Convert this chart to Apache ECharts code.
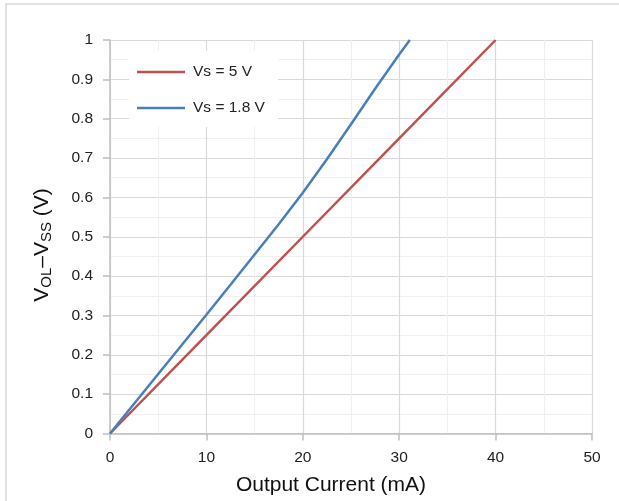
<!DOCTYPE html>
<html>
<head>
<meta charset="utf-8">
<script src="https://cdn.jsdelivr.net/npm/echarts@6/dist/echarts.min.js"></script>
<style>
html,body{margin:0;padding:0;background:#fff;overflow:hidden;}
#chart{width:619px;height:501px;}
</style>
</head>
<body>
<div id="chart"></div>
<script>
// Data
const seriesNames = ['Vs = 5 V', 'Vs = 1.8 V'];
const vs5 = [[0, 0], [10, 0.25], [20, 0.5], [30, 0.75], [40, 1.0]];
const vs18 = [[0, 0], [5, 0.151], [10, 0.302], [12.5, 0.378], [15, 0.455], [17.5, 0.532], [20, 0.612], [22.5, 0.697], [25, 0.786], [27.5, 0.876], [30, 0.963], [31.1, 1.0]];
const xTicks = [0, 10, 20, 30, 40, 50];
const yTicks = [0, 0.1, 0.2, 0.3, 0.4, 0.5, 0.6, 0.7, 0.8, 0.9, 1];
const xTitle = 'Output Current (mA)';
const yTitle = '{a|V}{s|OL}{a|\u2013V}{s|SS}{a| (V)}';

const font = 'Liberation Sans, Arial, sans-serif';
const chart = echarts.init(document.getElementById('chart'));
chart.setOption({
  animation: false,
  backgroundColor: '#fff',
  graphic: [{
    type: 'rect', z: -10,
    shape: {x: 6, y: 4, width: 800, height: 700},
    style: {fill: 'none', stroke: '#d9d9d9', lineWidth: 1.5},
    silent: true
  }, {
    type: 'text', x: 331, y: 485, silent: true,
    style: {text: xTitle, font: '21px ' + font, fill: '#111', align: 'center', verticalAlign: 'middle'}
  }, {
    type: 'text', x: 42, y: 245, rotation: Math.PI / 2, silent: true,
    style: {
      text: yTitle, align: 'center', verticalAlign: 'middle', fill: '#111',
      rich: {
        a: {fontFamily: font, fontSize: 21, fill: '#111', lineHeight: 24},
        s: {fontFamily: font, fontSize: 15, fill: '#111', lineHeight: 19, verticalAlign: 'bottom'}
      }
    }
  }],
  grid: {left: 110, right: 27, top: 40, height: 393.5, containLabel: false},
  legend: {
    left: 129, top: 51,
    orient: 'vertical',
    backgroundColor: '#fff',
    padding: [12, 13, 10, 8],
    icon: 'rect',
    itemWidth: 48, itemHeight: 2.5, itemGap: 18,
    textStyle: {fontFamily: font, fontSize: 15.5, lineHeight: 18, color: '#222', padding: [0, 0, 0, 3]},
    data: seriesNames
  },
  xAxis: {
    type: 'value', min: xTicks[0], max: xTicks[xTicks.length - 1], interval: 10,
    axisLine: {show: true, lineStyle: {color: '#bfbfbf', width: 1.5}},
    axisTick: {show: true, length: 7, lineStyle: {color: '#bfbfbf', width: 1.5}},
    axisLabel: {fontFamily: font, fontSize: 15.5, color: '#222', margin: 16},
    splitLine: {show: true, lineStyle: {color: '#d9d9d9', width: 1.2}},
    minorTick: {show: false, splitNumber: 2},
    minorSplitLine: {show: true, lineStyle: {color: '#f0f0f0', width: 1.2}}
  },
  yAxis: {
    type: 'value', min: yTicks[0], max: yTicks[yTicks.length - 1], interval: 0.1,
    axisLine: {show: true, lineStyle: {color: '#bfbfbf', width: 1.5}},
    axisTick: {show: true, length: 7, lineStyle: {color: '#bfbfbf', width: 1.5}},
    axisLabel: {fontFamily: font, fontSize: 15.5, color: '#222', margin: 17,
      formatter: v => String(Math.round(v * 10) / 10)},
    splitLine: {show: true, lineStyle: {color: '#d9d9d9', width: 1.2}},
    minorTick: {show: false, splitNumber: 2},
    minorSplitLine: {show: true, lineStyle: {color: '#f0f0f0', width: 1.2}}
  },
  series: [
    {name: seriesNames[0], type: 'line', data: vs5, symbol: 'none',
      lineStyle: {color: '#c0504d', width: 2.5}, itemStyle: {color: '#c0504d'}},
    {name: seriesNames[1], type: 'line', data: vs18, symbol: 'none',
      lineStyle: {color: '#4a7ebb', width: 2.5}, itemStyle: {color: '#4a7ebb'}}
  ]
});
</script>
</body>
</html>
